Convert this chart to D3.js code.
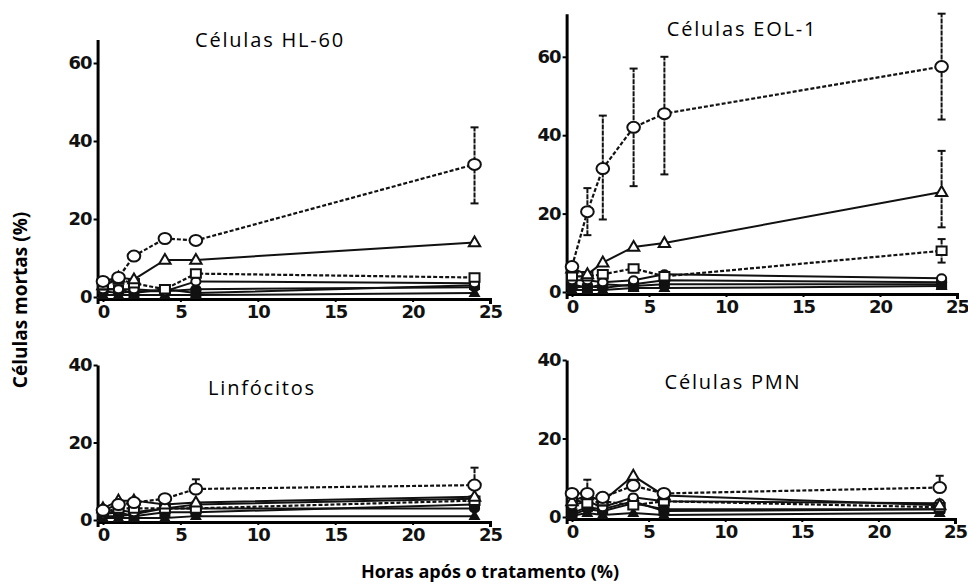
<!DOCTYPE html>
<html>
<head>
<meta charset="utf-8">
<script src="https://cdn.jsdelivr.net/npm/d3@7"></script>
<style>
  body { margin: 0; background: #fff; }
  svg { display: block; }
</style>
</head>
<body>
<script>
// Hours after treatment, shared by every series.
const hours = [0, 1, 2, 4, 6, 24];
const xTicks = [0, 5, 10, 15, 20, 25];

const panelTitles = ["Células HL-60", "Células EOL-1", "Linfócitos", "Células PMN"];

// Series order: open circle, open triangle, open square, small open circle,
// filled circle, filled square, filled triangle.
const hl60Values = [
  [4, 5, 10.5, 15, 14.5, 34],
  [3, 5, 4.5, 9.5, 9.5, 14],
  [3, 4.5, 3.5, 2, 6, 5],
  [2, 2, 2, 1.5, 4, 3.5],
  [1.5, 1, 1.5, 1.5, 2, 2.5],
  [2, 2, 1, 2, 1, 3],
  [0.5, 0.5, 0.5, 0.5, 0.5, 1]
];
const eol1Values = [
  [6.5, 20.5, 31.5, 42, 45.5, 57.5],
  [6, 4.5, 7.5, 11.5, 12.5, 25.5],
  [4, 4, 4.5, 6, 4, 10.5],
  [3, 3, 2.5, 3, 4.5, 3.5],
  [1, 1.5, 1, 2, 3, 2.5],
  [2, 1, 2, 1.5, 2, 2],
  [0.5, 0.5, 0.5, 1, 1, 1.5]
];
const linfValues = [
  [2.5, 4, 4.5, 5.5, 8, 9],
  [3, 5, 5, 4, 4.5, 6],
  [2, 3, 3, 3, 3, 5],
  [1.5, 2.5, 2, 3, 4, 5.5],
  [1, 1, 1.5, 3, 3, 3],
  [1.5, 2, 1, 2, 2, 4],
  [0.5, 0.5, 0.5, 0.5, 1, 1]
];
const pmnValues = [
  [6, 6, 5, 8, 6, 7.5],
  [4, 5.5, 4, 10.5, 5.5, 3],
  [4.5, 3.5, 4, 3, 4, 2.5],
  [3, 4, 2.5, 5, 4, 3.5],
  [0.5, 2, 1.5, 3.5, 2, 2],
  [1, 2.5, 2, 4, 1.5, 2],
  [0.3, 1, 0.5, 1, 0.5, 1]
];

// Error bars: [series index, hour, low, high]
const hl60Errors = [[0, 24, 24, 43.5]];
const eol1Errors = [
  [0, 1, 14.5, 26.5], [0, 2, 18.5, 45], [0, 4, 27, 57], [0, 6, 30, 60], [0, 24, 44, 71],
  [1, 24, 16.5, 36], [2, 24, 7.5, 13.5]
];
const linfErrors = [[0, 6, 8, 10.5], [0, 24, 9, 13.5]];
const pmnErrors = [[0, 1, 6, 9.5], [0, 24, 7.5, 10.5]];

const yTicksTop = [0, 20, 40, 60];
const yTicksBottom = [0, 20, 40];

const seriesMarkers = ["circle", "triangle", "square", "circle", "circle", "square", "triangle"];
const seriesFilled = [false, false, false, false, true, true, true];
const seriesDashed = [true, false, true, false, false, false, false];
const seriesSize = [5.5, 6, 5, 4, 4, 4.5, 4.5];

const width = 968, height = 586;

const svg = d3.select("body").append("svg")
  .attr("width", width)
  .attr("height", height)
  .style("background", "#fff");

// Pixel layout of each panel: x0/x25 = screen x of hour 0/25, y0 = screen y of 0%.
const layout = [
  { x0: 103, x25: 490, y0: 297, yMax: 66, pxPerUnit: 3.9, ticks: yTicksTop, values: hl60Values, errors: hl60Errors, tx: 270, ty: 47 },
  { x0: 572, x25: 957, y0: 292, yMax: 71, pxPerUnit: 3.92, ticks: yTicksTop, values: eol1Values, errors: eol1Errors, tx: 742, ty: 36 },
  { x0: 103, x25: 490, y0: 520, yMax: 40, pxPerUnit: 3.875, ticks: yTicksBottom, values: linfValues, errors: linfErrors, tx: 262, ty: 395 },
  { x0: 572, x25: 955, y0: 517, yMax: 40, pxPerUnit: 3.925, ticks: yTicksBottom, values: pmnValues, errors: pmnErrors, tx: 733, ty: 389 }
];

function markerPath(type, r) {
  if (type === "triangle") {
    return "M0," + (-r) + "L" + (r * 0.95) + "," + (r * 0.65) + "L" + (-r * 0.95) + "," + (r * 0.65) + "Z";
  }
  if (type === "square") {
    return "M" + (-r) + "," + (-r * 0.85) + "h" + (2 * r) + "v" + (1.7 * r) + "h" + (-2 * r) + "Z";
  }
  return "M" + (-r * 1.15) + ",0a" + (r * 1.15) + "," + r + " 0 1,0 " + (r * 2.3) + ",0a" + (r * 1.15) + "," + r + " 0 1,0 " + (-r * 2.3) + ",0Z";
}

function styleAxis(sel) {
  sel.select(".domain").attr("stroke-width", 3);
  sel.selectAll(".tick line").attr("stroke-width", 2);
  sel.selectAll(".tick text")
    .attr("font-family", "'DejaVu Sans', sans-serif")
    .attr("font-weight", "bold")
    .attr("font-size", 18)
    .attr("letter-spacing", "-1")
    .attr("fill", "#111");
}

layout.forEach(function(p, i) {
  const x = d3.scaleLinear().domain([0, 25]).range([p.x0, p.x25]);
  const y = d3.scaleLinear().domain([0, p.yMax]).range([p.y0, p.y0 - p.yMax * p.pxPerUnit]);
  const g = svg.append("g");

  // Y axis sits a little left of hour 0, as in the scanned figure.
  g.append("g")
    .attr("transform", "translate(" + x(-0.35) + ",0)")
    .call(d3.axisLeft(y).tickValues(p.ticks).tickSize(4).tickSizeOuter(0).tickPadding(2))
    .call(styleAxis);

  g.append("g")
    .attr("transform", "translate(0," + (p.y0 + 2) + ")")
    .call(d3.axisBottom(x.copy().domain([-0.35, 25]).range([x(-0.35), x(25)])).tickValues(xTicks).tickSize(3).tickSizeOuter(5).tickPadding(3))
    .call(styleAxis);

  // Error bars
  g.selectAll(".err")
    .data(p.errors)
    .enter().append("g")
    .each(function(e) {
      const eg = d3.select(this);
      const cx = x(e[1]);
      eg.append("line").attr("x1", cx).attr("x2", cx).attr("y1", y(e[2])).attr("y2", y(e[3]))
        .attr("stroke", "#111").attr("stroke-width", 2).attr("stroke-dasharray", "5,1");
      [e[2], e[3]].forEach(function(v) {
        eg.append("line").attr("x1", cx - 4).attr("x2", cx + 4).attr("y1", y(v)).attr("y2", y(v))
          .attr("stroke", "#111").attr("stroke-width", 2);
      });
    });

  const line = d3.line()
    .x(function(d, j) { return x(hours[j]); })
    .y(function(d) { return y(d); });

  // Draw lower series first so the open circle series stays on top.
  const order = d3.range(p.values.length).reverse();
  order.forEach(function(s) {
    g.append("path")
      .datum(p.values[s])
      .attr("d", line)
      .attr("fill", "none")
      .attr("stroke", "#111")
      .attr("stroke-width", seriesDashed[s] ? 2.2 : 2)
      .attr("stroke-dasharray", seriesDashed[s] ? "4,2" : null);
  });
  order.forEach(function(s) {
    g.selectAll(".m" + s)
      .data(p.values[s])
      .enter().append("path")
      .attr("transform", function(d, j) { return "translate(" + x(hours[j]) + "," + y(d) + ")"; })
      .attr("d", markerPath(seriesMarkers[s], seriesSize[s]))
      .attr("fill", seriesFilled[s] ? "#111" : "#fff")
      .attr("stroke", "#111")
      .attr("stroke-width", 2);
  });

  g.append("text")
    .attr("x", p.tx)
    .attr("y", p.ty)
    .attr("text-anchor", "middle")
    .style("font-family", "'Open Sans', sans-serif")
    .style("font-size", "20px")
    .style("letter-spacing", "1.8px")
    .text(panelTitles[i]);
});

svg.append("text")
  .attr("transform", "translate(27,300) rotate(-90)")
  .attr("text-anchor", "middle")
  .style("font-family", "'Open Sans', sans-serif")
  .style("font-weight", "bold")
  .style("font-size", "19px")
  .text("Células mortas (%)");

svg.append("text")
  .attr("x", 490)
  .attr("y", 578)
  .attr("text-anchor", "middle")
  .style("font-family", "'Open Sans', sans-serif")
  .style("font-weight", "bold")
  .style("font-size", "18px")
  .text("Horas após o tratamento (%)");
</script>
</body>
</html>
